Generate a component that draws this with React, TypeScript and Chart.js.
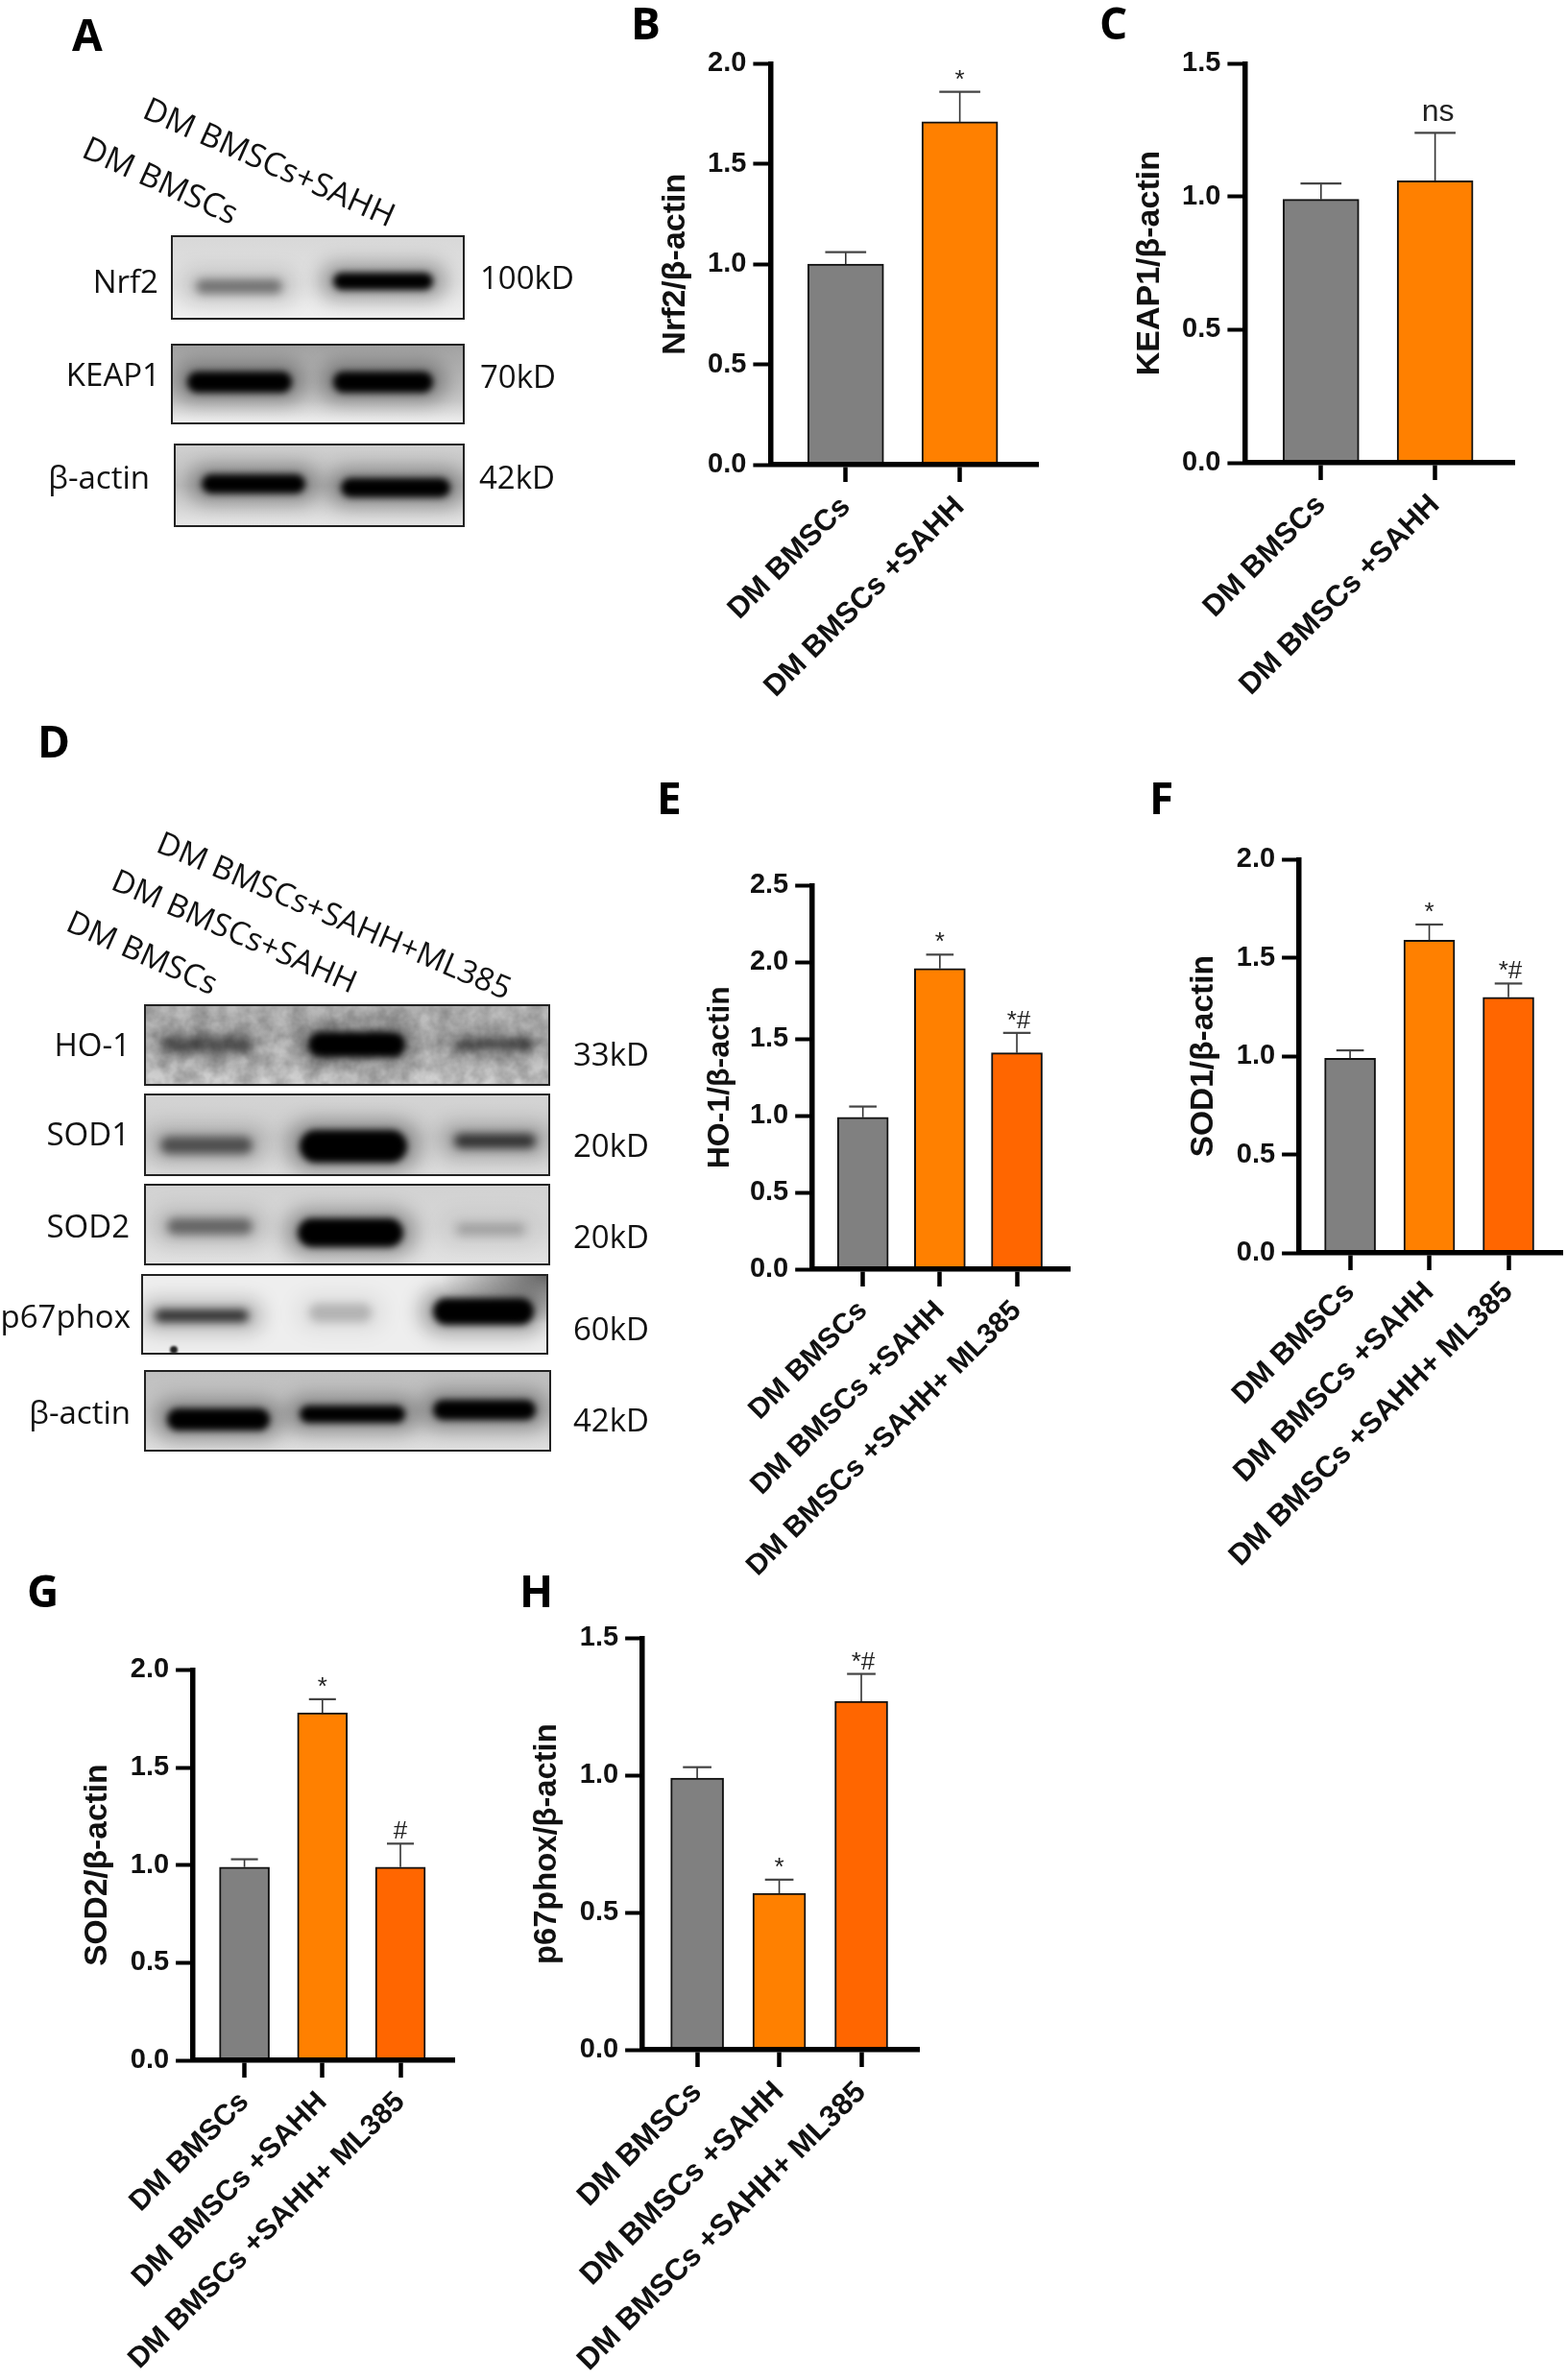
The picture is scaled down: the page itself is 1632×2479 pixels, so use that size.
import React, { useEffect, useRef } from "react";
import { Chart, registerables } from "chart.js";

Chart.register(...registerables);

// ---------- data ----------
const twoGroups = ["DM BMSCs", "DM BMSCs +SAHH"];
const threeGroups = ["DM BMSCs", "DM BMSCs +SAHH", "DM BMSCs +SAHH+ ML385"];

const nrf2Means = [1.0, 1.71];
const nrf2Upper = [1.06, 1.86];
const nrf2Marks = ["", "*"];

const keap1Means = [0.99, 1.06];
const keap1Upper = [1.05, 1.24];
const keap1Marks = ["", "ns"];

const ho1Means = [0.99, 1.96, 1.41];
const ho1Upper = [1.06, 2.05, 1.54];
const ho1Marks = ["", "*", "*#"];

const sod1Means = [0.99, 1.59, 1.3];
const sod1Upper = [1.03, 1.67, 1.37];
const sod1Marks = ["", "*", "*#"];

const sod2Means = [0.99, 1.78, 0.99];
const sod2Upper = [1.03, 1.85, 1.11];
const sod2Marks = ["", "*", "#"];

const p67Means = [0.99, 0.57, 1.27];
const p67Upper = [1.03, 0.62, 1.37];
const p67Marks = ["", "*", "*#"];

const barColors = ["#808080", "#FF8000", "#FF6600"];

// ---------- layout (page pixels) ----------
type Panel = {
  title: string; cats: string[]; means: number[]; upper: number[]; marks: string[]; yMax: number;
  axisX: number; top: number; zero: number; right: number; ticks: number[]; barW: number; titleX: number; titleSize: number; xSize: number; xPad: number;
};
const panels: Panel[] = [
  { title: "Nrf2/β-actin", cats: twoGroups, means: nrf2Means, upper: nrf2Upper, marks: nrf2Marks, yMax: 2, axisX: 802, top: 65.5, zero: 484, right: 1081, ticks: [880.5, 999.5], barW: 79, titleX: 703, titleSize: 34, xSize: 31, xPad: 8 },
  { title: "KEAP1/β-actin", cats: twoGroups, means: keap1Means, upper: keap1Upper, marks: keap1Marks, yMax: 1.5, axisX: 1296, top: 65.5, zero: 482, right: 1577, ticks: [1375.5, 1494.5], barW: 79, titleX: 1197, titleSize: 34, xSize: 31, xPad: 8 },
  { title: "HO-1/β-actin", cats: threeGroups, means: ho1Means, upper: ho1Upper, marks: ho1Marks, yMax: 2.5, axisX: 846, top: 922, zero: 1322, right: 1114, ticks: [898.5, 978.7, 1059], barW: 53, titleX: 750, titleSize: 32, xSize: 30, xPad: 8 },
  { title: "SOD1/β-actin", cats: threeGroups, means: sod1Means, upper: sod1Upper, marks: sod1Marks, yMax: 2, axisX: 1353, top: 895, zero: 1305, right: 1627, ticks: [1406, 1489, 1571], barW: 53, titleX: 1254, titleSize: 33.5, xSize: 31, xPad: 5 },
  { title: "SOD2/β-actin", cats: threeGroups, means: sod2Means, upper: sod2Upper, marks: sod2Marks, yMax: 2, axisX: 201, top: 1738.5, zero: 2146, right: 473, ticks: [254.5, 335.5, 417], barW: 52, titleX: 102, titleSize: 33.5, xSize: 30.2, xPad: 8 },
  { title: "p67phox/β-actin", cats: threeGroups, means: p67Means, upper: p67Upper, marks: p67Marks, yMax: 1.5, axisX: 669, top: 1705.5, zero: 2134.5, right: 957, ticks: [726, 811, 897], barW: 55, titleX: 569.5, titleSize: 32.7, xSize: 31.5, xPad: 8 },
];

const SANS = '"Liberation Sans", Arial, sans-serif';
const BLOT_FONT = '"Open Sans", sans-serif';
const PAD_TOP = 24;
const PAD_RIGHT = 6;
const LABEL_H = 340;

function ChartPanel({ p }: { p: Panel }) {
  const ref = useRef<HTMLCanvasElement>(null);
  const lineH = 1.2;
  const leftW = p.axisX - (p.titleX - (p.titleSize * lineH) / 2);
  const width = leftW + (p.right - p.axisX) + PAD_RIGHT;
  const height = PAD_TOP + (p.zero - p.top) + LABEL_H;

  useEffect(() => {
    const band = (p.ticks[p.ticks.length - 1] - p.ticks[0]) / (p.ticks.length - 1);
    const xMin = 1 - (p.ticks[0] - p.axisX) / band;
    const xMax = p.cats.length + (p.right - p.ticks[p.ticks.length - 1]) / band;
    const positions = p.cats.map((_, i) => i + 1);
    const errorPlugin = {
      id: "errorBars",
      afterDatasetsDraw(chart: any) {
        const { ctx, scales } = chart;
        const capHalf = p.barW * 0.27;
        ctx.save();
        p.upper.forEach((u, i) => {
          const x = chart.getDatasetMeta(0).data[i].x;
          const yTop = scales.y.getPixelForValue(u);
          const yBar = scales.y.getPixelForValue(p.means[i]);
          ctx.strokeStyle = "#333";
          ctx.lineWidth = 1.6;
          ctx.beginPath();
          ctx.moveTo(x, yBar);
          ctx.lineTo(x, yTop);
          ctx.stroke();
          ctx.strokeStyle = "#444";
          ctx.lineWidth = 2.2;
          ctx.beginPath();
          ctx.moveTo(x - capHalf, yTop);
          ctx.lineTo(x + capHalf, yTop);
          ctx.stroke();
          const m = p.marks[i];
          if (m) {
            ctx.fillStyle = "#222";
            ctx.textAlign = "center";
            ctx.textBaseline = "alphabetic";
            if (m === "ns") {
              ctx.font = `32px ${SANS}`;
              ctx.fillText(m, x + 3, yTop - 12);
            } else {
              ctx.font = `26px ${SANS}`;
              ctx.fillText(m, x + (m === "*#" ? 2 : 0), yTop - 5);
            }
          }
        });
        ctx.restore();
      },
    };
    const chart = new Chart(ref.current as HTMLCanvasElement, {
      type: "bar",
      data: {
        datasets: [
          {
            data: p.means.map((v, i) => ({ x: positions[i], y: v })),
            backgroundColor: barColors.slice(0, p.means.length),
            borderColor: "#111",
            borderWidth: 2,
            borderSkipped: false,
            barThickness: p.barW,
          },
        ],
      },
      options: {
        responsive: false,
        animation: false,
        devicePixelRatio: 1,
        layout: { padding: { top: PAD_TOP, right: PAD_RIGHT, left: 0, bottom: 0 } },
        plugins: { legend: { display: false }, title: { display: false }, tooltip: { enabled: false } },
        scales: {
          x: {
            type: "linear",
            offset: false,
            min: xMin,
            max: xMax,
            bounds: "data",
            afterBuildTicks: (s: any) => { s.ticks = positions.map((v) => ({ value: v })); },
            afterFit: (s: any) => { s.height = LABEL_H; },
            border: { color: "#000", width: 5.5, z: 1 },
            grid: { offset: false, drawOnChartArea: false, drawTicks: true, tickLength: 18, tickWidth: 4.5, tickColor: "#000" },
            ticks: {
              autoSkip: false,
              minRotation: 45,
              maxRotation: 45,
              padding: p.xPad,
              color: "#111",
              font: { family: SANS, size: p.xSize, weight: "bold" },
              callback: (v: any) => p.cats[Number(v) - 1],
            },
          },
          y: {
            min: 0,
            max: p.yMax,
            afterFit: (s: any) => { s.width = leftW; },
            border: { color: "#000", width: 5.5, z: 1 },
            grid: { drawOnChartArea: false, drawTicks: true, tickLength: 18, tickWidth: 4, tickColor: "#000" },
            title: {
              display: true,
              text: p.title,
              color: "#111",
              padding: 0,
              font: { family: SANS, size: p.titleSize, weight: "bold", lineHeight: lineH },
            },
            ticks: {
              stepSize: 0.5,
              padding: 7,
              color: "#111",
              font: { family: SANS, size: 29, weight: "bold" },
              callback: (v: any) => Number(v).toFixed(1),
            },
          },
        },
      },
      plugins: [errorPlugin],
    } as any);
    return () => chart.destroy();
  }, []);

  return (
    <canvas
      ref={ref}
      width={width}
      height={height}
      style={{ position: "absolute", left: p.axisX - leftW, top: p.top - PAD_TOP, width, height, display: "block" }}
    />
  );
}

// ---------- western blots ----------
type Band = [number, number, number, number, number]; // x0, x1, y0, y1, darkness
type Blot = {
  x0: number; x1: number; y0: number; y1: number; bg: string; bands: Band[];
  label: string; labelRight: number; labelY: number; kd: string; kdX: number; kdY: number; noise?: boolean; spot?: [number, number];
};

const blots: Blot[] = [
  { x0: 178, x1: 484, y0: 245, y1: 333, bg: "linear-gradient(#d8d8d8,#e2e2e2 60%,#f0f0f0)", label: "Nrf2", labelRight: 165, labelY: 292, kd: "100kD", kdX: 500, kdY: 288,
    bands: [[204, 294, 291, 306, 0.42], [347, 451, 284, 302, 1]] },
  { x0: 178, x1: 484, y0: 358, y1: 442, bg: "linear-gradient(#a2a2a2,#bcbcbc 55%,#c8c8c8 72%,#f0f0f0)", label: "KEAP1", labelRight: 167, labelY: 388.5, kd: "70kD", kdX: 500, kdY: 391,
    bands: [[195, 304, 387, 409, 1], [347, 451, 387, 409, 1]] },
  { x0: 181, x1: 484, y0: 462, y1: 549, bg: "linear-gradient(#d0d0d0,#c0c0c0 50%,#e6e6e6)", label: "β-actin", labelRight: 156, labelY: 496, kd: "42kD", kdX: 499, kdY: 496,
    bands: [[210, 318, 494, 514, 1], [355, 469, 498, 518, 1]] },
  { x0: 149.5, x1: 573, y0: 1046, y1: 1131, bg: "linear-gradient(#bcbcbc,#c4c4c4 50%,#d2d2d2)", noise: true, label: "HO-1", labelRight: 136, labelY: 1087, kd: "33kD", kdX: 597, kdY: 1097,
    bands: [[167, 263, 1080, 1096, 0.5], [321, 422, 1075, 1101, 1], [473, 556, 1082, 1094, 0.55]] },
  { x0: 149.5, x1: 573, y0: 1139, y1: 1225, bg: "linear-gradient(#d4d4d4,#cccccc 50%,#dcdcdc)", label: "SOD1", labelRight: 135, labelY: 1180, kd: "20kD", kdX: 597, kdY: 1191.5,
    bands: [[167, 263, 1184, 1202, 0.55], [312, 424, 1177, 1211, 1], [473, 558, 1181, 1196, 0.7]] },
  { x0: 149.5, x1: 573, y0: 1233, y1: 1318, bg: "linear-gradient(#d2d2d2,#d6d6d6 50%,#e2e2e2)", label: "SOD2", labelRight: 135, labelY: 1276, kd: "20kD", kdX: 597, kdY: 1287,
    bands: [[174, 263, 1269, 1286, 0.45], [310, 420, 1269, 1299, 1], [475, 547, 1274, 1287, 0.2]] },
  { x0: 146.5, x1: 571, y0: 1327, y1: 1411, bg: "radial-gradient(ellipse 110px 50px at 100% 0%,#666,rgba(102,102,102,0)),#eeeeee", label: "p67phox", labelRight: 136, labelY: 1370, kd: "60kD", kdX: 597, kdY: 1383, spot: [181, 1406],
    bands: [[161, 259, 1364, 1377, 0.75], [322, 387, 1358, 1377, 0.2], [451, 556, 1352, 1380, 1]] },
  { x0: 149.5, x1: 574, y0: 1427, y1: 1512, bg: "linear-gradient(#c0c0c0,#c6c6c6 50%,#e0e0e0)", label: "β-actin", labelRight: 136, labelY: 1470, kd: "42kD", kdX: 597, kdY: 1478,
    bands: [[174, 281, 1467, 1490, 1], [312, 422, 1464, 1482, 1], [451, 558, 1458, 1479, 1]] },
];

type Lane = { text: string; x: number; y: number; size: number; angle: number };
const laneLabels: Lane[] = [
  { text: "DM BMSCs", x: 89, y: 151, size: 34, angle: 24.5 },
  { text: "DM BMSCs+SAHH", x: 152, y: 110, size: 34, angle: 24 },
  { text: "DM BMSCs", x: 72, y: 957, size: 33, angle: 24 },
  { text: "DM BMSCs+SAHH", x: 119, y: 914, size: 33, angle: 23.5 },
  { text: "DM BMSCs+SAHH+ML385", x: 166, y: 875, size: 33, angle: 23 },
];

type Letter = { text: string; x: number; y: number };
const letters: Letter[] = [
  { text: "A", x: 75, y: 35 },
  { text: "B", x: 657, y: 23 },
  { text: "C", x: 1145, y: 23 },
  { text: "D", x: 39, y: 771 },
  { text: "E", x: 684, y: 830 },
  { text: "F", x: 1197, y: 830 },
  { text: "G", x: 28, y: 1656 },
  { text: "H", x: 541, y: 1656 },
];

const blotText: React.CSSProperties = {
  position: "absolute",
  fontFamily: BLOT_FONT,
  fontSize: 33,
  lineHeight: 1,
  color: "#111",
  whiteSpace: "nowrap",
  transform: "translateY(-50%)",
};

function BlotView({ b, idx }: { b: Blot; idx: number }) {
  const w = b.x1 - b.x0;
  const h = b.y1 - b.y0;
  return (
    <>
      <div style={{ position: "absolute", left: b.x0, top: b.y0, width: w, height: h, boxSizing: "border-box", border: "2px solid #222", overflow: "hidden", background: b.bg }}>
        {b.noise && (
          <svg width={w} height={h} style={{ position: "absolute", left: 0, top: 0, opacity: 0.25, mixBlendMode: "multiply" }}>
            <filter id={`n${idx}`}>
              <feTurbulence type="fractalNoise" baseFrequency="0.06" numOctaves={3} seed={4} />
              <feColorMatrix type="matrix" values="0 0 0 0 0  0 0 0 0 0  0 0 0 0 0  1.6 0 0 0 -0.4" />
            </filter>
            <rect width={w} height={h} filter={`url(#n${idx})`} />
          </svg>
        )}
        {b.bands.map(([x0, x1, y0, y1, a], i) => {
          const bw = x1 - x0;
          const bh = y1 - y0;
          const lx = x0 - b.x0 - 2;
          const ly = y0 - b.y0 - 2;
          const coreBlur = a < 0.9 ? 5 : 3.5;
          return (
            <React.Fragment key={i}>
              <div style={{ position: "absolute", left: lx - 14, top: ly - 10, width: bw + 28, height: bh + 20, borderRadius: bh, background: `rgba(0,0,0,${a * 0.32})`, filter: "blur(10px)" }} />
              <div style={{ position: "absolute", left: lx, top: ly, width: bw, height: bh, borderRadius: bh, background: `rgba(0,0,0,${a})`, filter: `blur(${coreBlur}px)` }} />
            </React.Fragment>
          );
        })}
        {b.spot && (
          <div style={{ position: "absolute", left: b.spot[0] - b.x0 - 6, top: b.spot[1] - b.y0 - 6, width: 8, height: 8, borderRadius: 4, background: "#222", filter: "blur(1px)" }} />
        )}
      </div>
      <div style={{ ...blotText, right: 1632 - b.labelRight, top: b.labelY }}>{b.label}</div>
      <div style={{ ...blotText, left: b.kdX, top: b.kdY }}>{b.kd}</div>
    </>
  );
}

export default function App() {
  return (
    <div style={{ position: "absolute", left: 0, top: 0, width: 1632, height: 2479, background: "#fff", overflow: "hidden" }}>
      {blots.map((b, i) => <BlotView key={i} b={b} idx={i} />)}
      {laneLabels.map((l, i) => (
        <div key={i} style={{ position: "absolute", left: l.x, top: l.y, fontFamily: BLOT_FONT, fontSize: l.size, lineHeight: 1, color: "#111", whiteSpace: "nowrap", transformOrigin: "0 50%", transform: `translateY(-50%) rotate(${l.angle}deg)` }}>{l.text}</div>
      ))}
      {letters.map((l, i) => (
        <div key={i} style={{ position: "absolute", left: l.x, top: l.y, fontFamily: BLOT_FONT, fontWeight: 700, fontSize: 46, lineHeight: 1, color: "#000", transform: "translateY(-50%)" }}>{l.text}</div>
      ))}
      {panels.map((p, i) => <ChartPanel key={i} p={p} />)}
    </div>
  );
}
